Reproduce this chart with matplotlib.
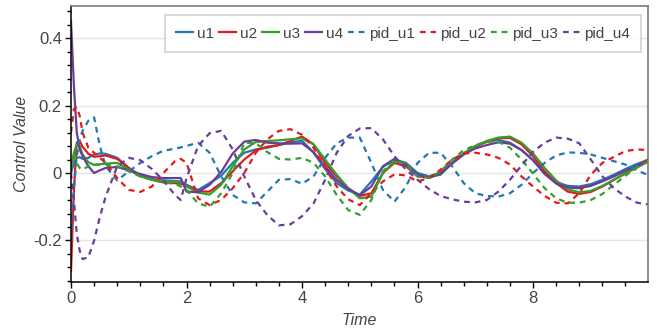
import matplotlib
matplotlib.use("Agg")
import matplotlib.pyplot as plt
from matplotlib.ticker import MultipleLocator, FixedLocator, FuncFormatter

plt.rcParams['font.family'] = ['Liberation Sans', 'DejaVu Sans']

t = [0, 0.05, 0.1, 0.15, 0.2, 0.3, 0.4, 0.5, 0.6, 0.8, 1.0, 1.2, 1.4, 1.6, 1.8, 1.9,
     2.0, 2.2, 2.4, 2.6, 2.8, 3.0, 3.2, 3.4, 3.6, 3.8, 4.0, 4.2, 4.4, 4.6, 4.8,
     5.0, 5.2, 5.4, 5.6, 5.8, 6.0, 6.2, 6.4, 6.6, 6.8, 7.0, 7.2, 7.4, 7.6, 7.8,
     8.0, 8.2, 8.4, 8.6, 8.8, 9.0, 9.2, 9.4, 9.6, 9.8, 9.99]

u1 = [0.0, 0.03, 0.045, 0.047, 0.042, 0.045, 0.055, 0.058, 0.057, 0.045, 0.015, -0.008, -0.018, -0.022, -0.024, -0.025,
      -0.035, -0.05, -0.03, -0.008, 0.03, 0.06, 0.07, 0.075, 0.083, 0.09, 0.096, 0.06, 0.012, -0.03, -0.052,
      -0.064, -0.025, 0.018, 0.04, 0.03, 0.0, -0.01, 0.002, 0.03, 0.058, 0.08, 0.093, 0.098, 0.09, 0.068,
      0.038, 0.0, -0.027, -0.038, -0.04, -0.033, -0.02, -0.005, 0.012, 0.027, 0.039]

u2 = [-0.29, -0.05, 0.09, 0.095, 0.078, 0.057, 0.048, 0.05, 0.052, 0.042, 0.015, -0.008, -0.02, -0.028, -0.03, -0.032,
      -0.038, -0.055, -0.055, -0.03, 0.005, 0.04, 0.067, 0.078, 0.083, 0.095, 0.108, 0.085, 0.03, -0.01, -0.045,
      -0.068, -0.06, 0.0, 0.03, 0.02, -0.01, -0.013, 0.0, 0.03, 0.058, 0.078, 0.093, 0.103, 0.104, 0.085,
      0.05, 0.005, -0.03, -0.055, -0.062, -0.056, -0.04, -0.02, 0.0, 0.02, 0.04]

u3 = [0.02, 0.06, 0.085, 0.08, 0.055, 0.032, 0.024, 0.026, 0.028, 0.03, 0.01, -0.01, -0.02, -0.025, -0.026, -0.028,
      -0.04, -0.058, -0.064, -0.035, 0.02, 0.07, 0.092, 0.095, 0.097, 0.1, 0.103, 0.085, 0.04, -0.005, -0.045,
      -0.075, -0.07, 0.0, 0.035, 0.028, -0.008, -0.012, -0.005, 0.03, 0.058, 0.08, 0.095, 0.105, 0.108, 0.09,
      0.058, 0.015, -0.022, -0.048, -0.057, -0.053, -0.038, -0.02, -0.002, 0.016, 0.034]

u4 = [0.45, 0.26, 0.12, 0.07, 0.05, 0.02, 0.0, 0.008, 0.015, 0.018, 0.008, -0.003, -0.012, -0.015, -0.015, -0.015,
      -0.055, -0.057, -0.035, 0.003, 0.058, 0.093, 0.098, 0.09, 0.088, 0.087, 0.088, 0.062, 0.02, -0.021, -0.047,
      -0.066, -0.04, 0.02, 0.042, 0.025, -0.005, -0.014, -0.002, 0.028, 0.055, 0.073, 0.083, 0.091, 0.087, 0.068,
      0.038, -0.003, -0.031, -0.043, -0.045, -0.038, -0.025, -0.01, 0.007, 0.022, 0.034]

pid_u1 = [-0.2, -0.05, 0.05, 0.1, 0.125, 0.155, 0.165, 0.08, 0.02, -0.022, 0.005, 0.03, 0.05, 0.066, 0.072, 0.076,
          0.08, 0.09, 0.06, -0.01, -0.065, -0.087, -0.09, -0.055, -0.02, -0.018, -0.032, -0.01, 0.045, 0.088, 0.105,
          0.105, 0.03, -0.05, -0.085, -0.04, 0.03, 0.06, 0.06, 0.02, -0.03, -0.06, -0.068, -0.07, -0.06, -0.035,
          0.0, 0.03, 0.052, 0.061, 0.06, 0.055, 0.045, 0.035, 0.025, 0.008, -0.006]

pid_u2 = [0.12, 0.19, 0.195, 0.17, 0.12, 0.075, 0.06, 0.045, 0.03, -0.015, -0.05, -0.056, -0.04, 0.0, 0.035, 0.042,
          0.03, -0.075, -0.095, -0.08, -0.045, 0.0, 0.06, 0.1, 0.125, 0.13, 0.113, 0.075, 0.015, -0.04, -0.078,
          -0.095, -0.06, -0.025, -0.004, -0.007, -0.025, -0.015, 0.01, 0.04, 0.058, 0.06, 0.055, 0.045, 0.025, -0.01,
          -0.04, -0.068, -0.088, -0.09, -0.06, -0.005, 0.03, 0.048, 0.065, 0.07, 0.068]

pid_u3 = [0.0, 0.06, 0.03, 0.015, 0.01, 0.02, 0.025, 0.025, 0.025, 0.02, 0.005, -0.01, -0.02, -0.028, -0.032, -0.04,
          -0.05, -0.09, -0.1, -0.06, 0.0, 0.09, 0.088, 0.062, 0.042, 0.04, 0.045, 0.03, -0.01, -0.065, -0.11,
          -0.124, -0.08, 0.005, 0.038, 0.025, -0.01, -0.015, 0.005, 0.04, 0.068, 0.082, 0.093, 0.093, 0.075, 0.04,
          -0.002, -0.045, -0.075, -0.088, -0.088, -0.08, -0.062, -0.035, -0.008, 0.018, 0.033]

pid_u4 = [0.0, -0.08, -0.18, -0.23, -0.255, -0.25, -0.2, -0.13, -0.07, 0.02, 0.045, 0.038, 0.012, -0.022, -0.065, -0.08,
          -0.015, 0.08, 0.118, 0.125, 0.07, -0.01, -0.08, -0.125, -0.155, -0.152, -0.128, -0.09, -0.02, 0.06, 0.11,
          0.132, 0.133, 0.1, 0.05, 0.01, -0.02, -0.048, -0.068, -0.078, -0.085, -0.087, -0.08, -0.055, -0.02, 0.022,
          0.063, 0.09, 0.105, 0.102, 0.088, 0.04, -0.01, -0.045, -0.07, -0.088, -0.093]

names = ['u1', 'u2', 'u3', 'u4', 'pid_u1', 'pid_u2', 'pid_u3', 'pid_u4']
series = [u1, u2, u3, u4, pid_u1, pid_u2, pid_u3, pid_u4]
colors = ['#1f78b4', '#e31a1c', '#33a02c', '#6a3d9a']

fig = plt.figure(figsize=(6.57, 3.30), dpi=100)
ax = fig.add_axes([71/657, 1 - 282/330, (648 - 71)/657, (282 - 6)/330])

for i, (name, ys) in enumerate(zip(names, series)):
    c = colors[i % 4]
    if i < 4:
        ax.plot(t, ys, color=c, lw=1.6, label=name, solid_joinstyle='round')
    else:
        ax.plot(t, ys, color=c, lw=1.6, linestyle=(0, (2.6, 2.2)), label=name)

ax.set_xlim(0, 9.99)
ax.set_ylim(-0.323, 0.495)

ax.xaxis.set_major_locator(FixedLocator([0, 2, 4, 6, 8]))
ax.xaxis.set_minor_locator(MultipleLocator(0.4))
ax.yaxis.set_major_locator(FixedLocator([-0.2, 0, 0.2, 0.4]))
ax.yaxis.set_minor_locator(MultipleLocator(0.04))
ax.yaxis.set_major_formatter(FuncFormatter(lambda v, p: '0' if abs(v) < 1e-9 else f'{v:g}'))

txt = '#444444'
ax.tick_params(axis='both', which='major', direction='out', length=4.5, width=1, color='black',
               labelsize=12, labelcolor=txt, pad=2)
ax.tick_params(axis='both', which='minor', direction='out', length=3, width=1, color='black')

ax.grid(axis='y', which='major', color='#e5e5e5', lw=1)
ax.set_axisbelow(True)

for s in ['left', 'bottom']:
    ax.spines[s].set_color('black')
    ax.spines[s].set_linewidth(1.1)
for s in ['top', 'right']:
    ax.spines[s].set_color('#7a7a7a')
    ax.spines[s].set_linewidth(1.2)

ax.set_xlabel('Time', fontsize=11.5, style='italic', color=txt, labelpad=5)
ax.set_ylabel('Control Value', fontsize=11.5, style='italic', color=txt, labelpad=3)

leg = ax.legend(loc='upper right', ncol=8, fontsize=11, handlelength=1.1, handletextpad=0.26,
                columnspacing=0.33, borderpad=0.75, frameon=True, fancybox=False,
                bbox_to_anchor=(0.988, 0.967), borderaxespad=0)
leg.get_frame().set_edgecolor('#c8c8c8')
leg.get_frame().set_linewidth(1.2)
for text in leg.get_texts():
    text.set_color(txt)

fig.savefig('out.png', dpi=100)
